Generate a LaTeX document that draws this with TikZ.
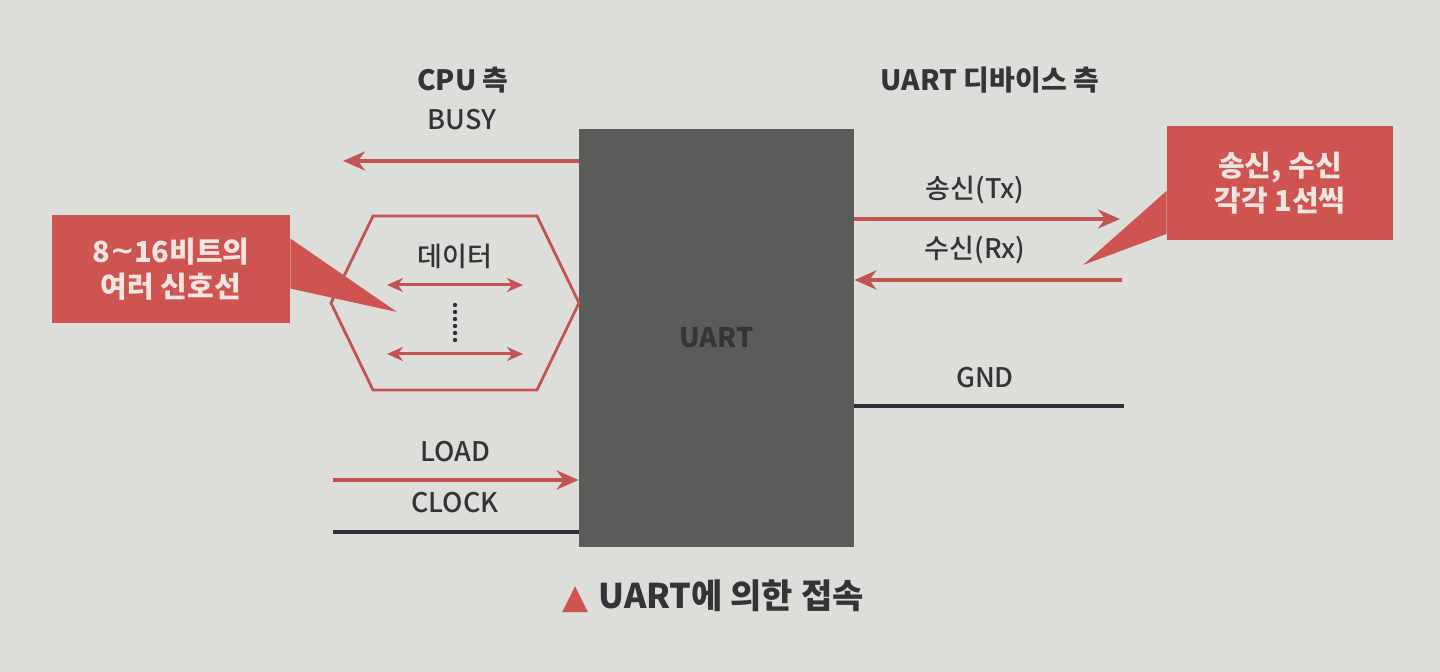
\documentclass[tikz,border=0pt]{standalone}
\usepackage{fontspec}
\setmainfont{Noto Sans CJK KR}
\newfontfamily\medfont{Noto Sans CJK KR Medium}
\newfontfamily\symfont{DejaVu Sans}
\usetikzlibrary{arrows.meta}

\definecolor{paper}{RGB}{221,222,218}
\definecolor{uartgray}{RGB}{90,92,90}
\definecolor{uartink}{RGB}{52,54,54}
\definecolor{wirered}{RGB}{196,84,84}
\definecolor{notered}{RGB}{205,84,80}
\definecolor{noteink}{RGB}{246,228,225}
\definecolor{wiredark}{RGB}{45,48,60}
\definecolor{ink}{RGB}{50,52,56}

\begin{document}
\begin{tikzpicture}[
x=0.5pt, y=-0.5pt,
every node/.style={font=\fontsize{13.5}{16}\selectfont\medfont, text=ink, inner sep=0pt},
head/.style={font=\fontsize{14}{17}\selectfont\bfseries},
redwire/.style={draw=wirered, line width=1.8pt, -{Stealth[length=11pt, width=9.5pt]}},
datawire/.style={draw=wirered, line width=1.5pt, {Stealth[length=8pt, width=7pt]}-{Stealth[length=8pt, width=7pt]}},
darkwire/.style={draw=wiredark, line width=1.6pt},
note/.style={fill=notered, text=noteink, align=center, font=\fontsize{14.5}{17.5}\selectfont\bfseries}
]

\fill[paper] (0,0) rectangle (1440,672);
\useasboundingbox (0,0) rectangle (1440,672);

% UART block
\node[fill=uartgray, minimum width=137.5pt, minimum height=209pt, text=uartink,
font=\fontsize{13.5}{16}\selectfont\bfseries] (uart) at (716.5,338) {UART};

\node[head] (cpuside) at (463,80) {CPU 측};
\node[head] (devside) at (990,80) {UART 디바이스 측};

% CPU side
\node (busy) at (462,120) {BUSY};
\coordinate (busyend) at (343,161);
\draw[redwire] (uart.west |- busyend) -- (busyend);

\coordinate (hexl) at (331,303);
\coordinate (hexr) at (579,303);
\draw[wirered, line width=1.4pt] (hexl) -- (373,216) -- (537,216) -- (hexr)
-- (537,390) -- (373,390) -- cycle;
\node (data) at (455,256) {데이터};

\foreach \y/\n in {285/a, 354/b} {
\coordinate (dl\n) at (387,\y);
\coordinate (dr\n) at (523,\y);
\draw[datawire] (dl\n) -- (dr\n);
}

\foreach \y in {305, 312, ..., 340} {
\fill[wiredark] (455,\y) circle (1.1pt);
}

\node (load) at (455,452) {LOAD};
\coordinate (loadstart) at (333,480);
\draw[redwire] (loadstart) -- (uart.west |- loadstart);

\node (clock) at (455,503) {CLOCK};
\coordinate (clockstart) at (333,532);
\draw[darkwire] (clockstart) -- (uart.west |- clockstart);

% device side
\node (tx) at (975,190) {송신(Tx)};
\coordinate (txend) at (1120,219);
\draw[redwire] (uart.east |- txend) -- (txend);

\node (rx) at (975,250) {수신(Rx)};
\coordinate (rxstart) at (1122,280);
\draw[redwire] (rxstart) -- (uart.east |- rxstart);

\node (gnd) at (985,378) {GND};
\coordinate (gndend) at (1124,406);
\draw[darkwire] (uart.east |- gndend) -- (gndend);

% callouts
\node[note, minimum width=119pt, minimum height=54pt] (datanote) at (171,269)
{8\raisebox{0.1ex}{\symfont\char"223C}16비트의\\여러 신호선};
\coordinate (datatip) at (397,312);
\fill[notered] ([yshift=-12pt]datanote.north east) -- (datatip)
-- ([yshift=-37pt]datanote.north east) -- cycle;

\node[note, minimum width=113pt, minimum height=57pt] (txnote) at (1280,183.5)
{송신, 수신\\각각 1선씩};
\coordinate (txtip) at (1083,265);
\fill[notered] ([yshift=25pt]txnote.south west) -- (txtip)
-- ([yshift=3.5pt]txnote.south west) -- cycle;

% caption
\node[font=\fontsize{17}{20}\selectfont\bfseries] (caption) at (713,596)
{{\symfont\color{notered}▲}\hspace{5pt}UART에 의한 접속};

\end{tikzpicture}
\end{document}
